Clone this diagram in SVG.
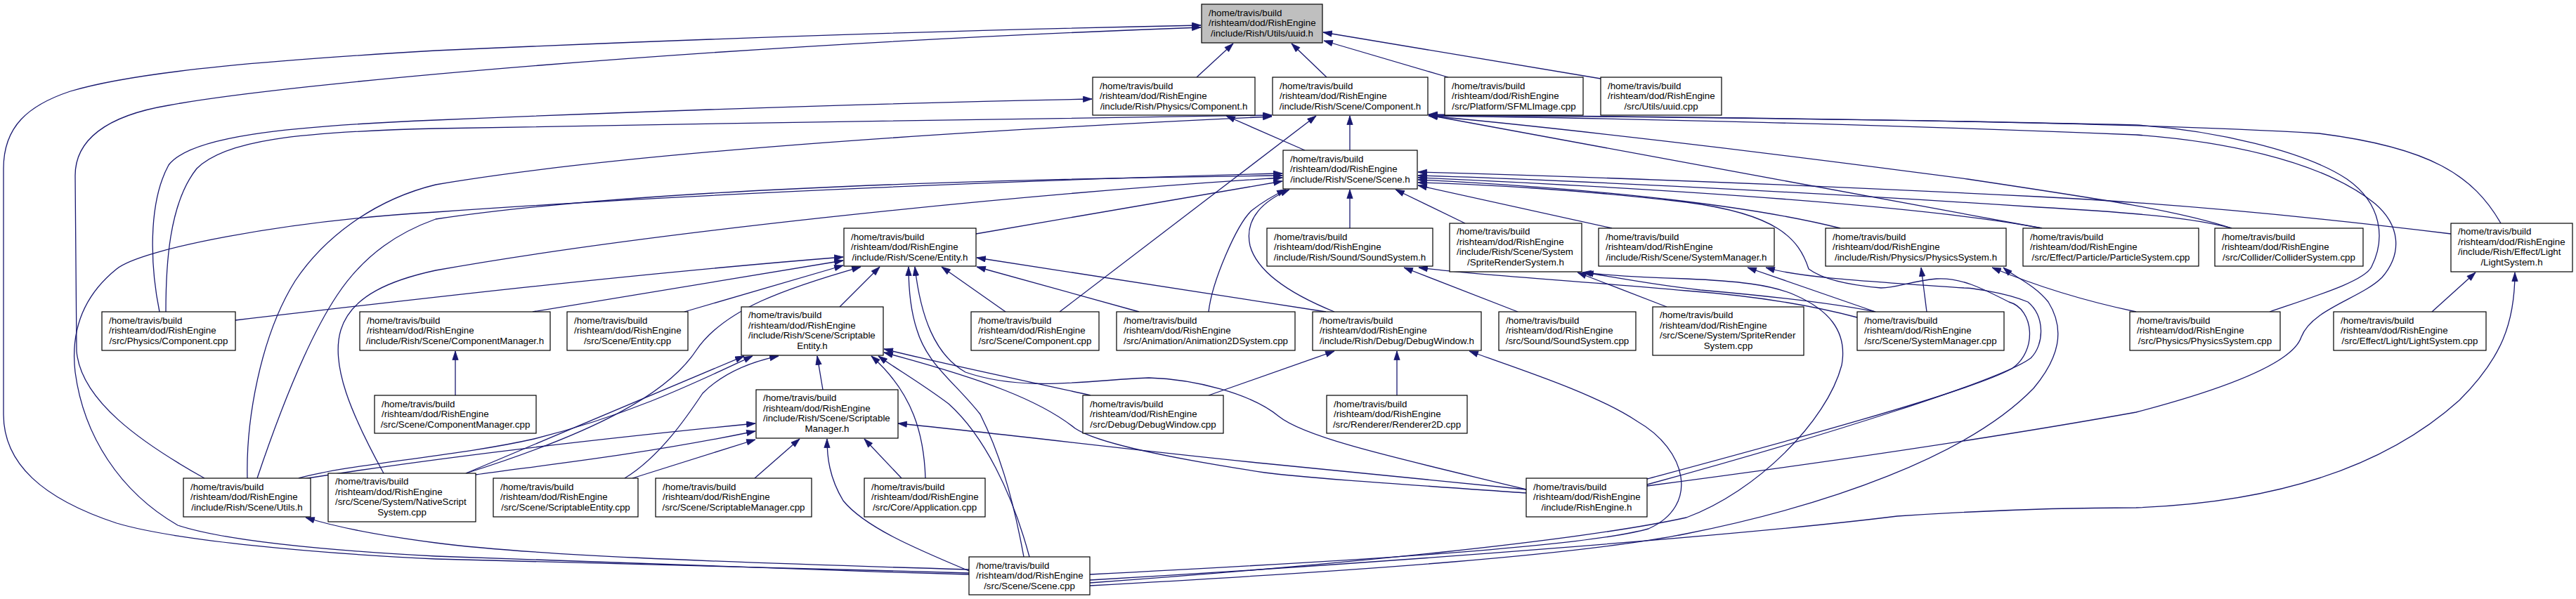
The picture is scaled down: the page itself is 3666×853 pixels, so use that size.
<svg xmlns="http://www.w3.org/2000/svg" width="3666" height="853" viewBox="0 0 3666 853">
<defs>
<marker id="a" markerUnits="userSpaceOnUse" markerWidth="15" markerHeight="11" refX="13" refY="4.65" orient="auto">
<path d="M0.5,0.5 L13,4.65 L0.5,8.8 z" fill="#191970" stroke="#191970" stroke-width="0.8"/>
</marker>
</defs>
<style>
.n rect{fill:#ffffff;stroke:#000000;stroke-width:1.2}
.n rect.g{fill:#bfbfbf}
.n text{font-family:"Liberation Sans",Arial,Helvetica,sans-serif;font-size:13.33px;fill:#000000}
.m{text-anchor:middle}
#edges path{fill:none;stroke:#191970;stroke-width:1.3;marker-end:url(#a)}
</style>
<rect width="3666" height="853" fill="#ffffff"/>
<g id="edges">
<path d="M1703,110 L1755,62"/>
<path d="M1888,110 L1838,62"/>
<path d="M2061,110 L1884,58"/>
<path d="M2278,112 L1883,46"/>
<path d="M1379,816 C1100,808 800,801 620,796 C450,788 250,770 166,745 C60,710 5,660 5,590 L5,240 C5,180 40,150 100,130 C200,100 400,85 620,72 C1000,55 1400,42 1709,36"/>
<path d="M291,681 C200,630 115,570 109,500 L107,250 C107,200 150,165 240,150 C400,120 1000,65 1709,39"/>
<path d="M227,444 C214,380 210,290 240,235 C270,195 400,180 620,171 C1000,155 1300,146 1554,141"/>
<path d="M236,444 C236,380 240,290 280,240 C320,200 420,188 620,183 C1000,175 1500,170 1810,164"/>
<path d="M1857,214 L1745,165"/>
<path d="M352,681 C350,600 370,480 420,400 C460,340 530,285 620,263 C900,215 1400,185 1810,166"/>
<path d="M1921,214 L1921,165"/>
<path d="M1508,444 L1873,165"/>
<path d="M1389,333 L1825,258"/>
<path d="M546,674 C500,590 470,520 485,470 C500,420 560,398 620,385 C900,335 1400,280 1825,253"/>
<path d="M1379,818 C1100,810 800,800 620,792 C450,783 320,770 253,748 C170,700 119,620 107,530 C100,470 120,420 166,383 C200,355 400,315 620,302 C1000,275 1500,255 1825,247"/>
<path d="M366,681 C400,580 440,480 480,420 C520,360 570,330 620,312 C900,270 1400,255 1825,250"/>
<path d="M335,456 C600,425 900,390 1200,366"/>
<path d="M758,444 L1200,371"/>
<path d="M974,444 L1200,378"/>
<path d="M1195,437 L1252,380"/>
<path d="M1431,444 L1340,380"/>
<path d="M1621,444 L1390,380"/>
<path d="M1887,444 L1390,367"/>
<path d="M1457,793 C1440,700 1420,640 1395,590 C1360,545 1320,520 1305,470 C1295,440 1293,410 1293,380"/>
<path d="M2172,697 C2000,655 1860,625 1820,593 C1780,560 1700,540 1635,538 C1560,540 1460,560 1374,530 C1330,505 1310,450 1302,380"/>
<path d="M663,674 C850,615 950,560 990,500 C1030,440 1120,410 1225,380"/>
<path d="M1171,555 L1163,507"/>
<path d="M663,674 L1059,507"/>
<path d="M425,681 C500,660 650,650 760,625 C900,590 1000,540 1071,507"/>
<path d="M889,681 C940,650 980,590 1000,560 C1030,530 1070,515 1108,507"/>
<path d="M1317,681 C1315,620 1300,560 1240,507"/>
<path d="M1465,793 C1440,700 1400,620 1350,575 C1310,545 1275,525 1250,507"/>
<path d="M1552,563 C1450,540 1350,520 1258,497"/>
<path d="M2172,702 C2000,690 1850,680 1800,673 C1650,650 1560,630 1530,610 C1480,570 1400,540 1258,502"/>
<path d="M425,683 C600,655 800,630 1075,603"/>
<path d="M677,676 C750,665 900,650 1075,614"/>
<path d="M900,681 L1075,626"/>
<path d="M1074,681 L1138,625"/>
<path d="M1283,681 L1230,625"/>
<path d="M1379,813 C1300,780 1230,750 1200,713 C1180,680 1177,650 1177,625"/>
<path d="M2172,697 C2000,680 1850,665 1800,660 C1600,640 1450,620 1278,603"/>
<path d="M648,563 L648,500"/>
<path d="M1988,563 L1988,500"/>
<path d="M1720,563 L1899,500"/>
<path d="M1551,818 C1900,800 2250,780 2346,753 C2420,720 2400,640 2330,600 C2270,560 2160,525 2091,500"/>
<path d="M1899,444 C1840,420 1790,390 1779,350 C1770,310 1800,285 1835,270"/>
<path d="M1720,444 C1725,400 1760,320 1781,300 C1800,285 1815,277 1830,270"/>
<path d="M1921,325 L1921,270"/>
<path d="M2085,318 L1986,270"/>
<path d="M2294,325 L2018,264"/>
<path d="M2619,325 C2500,295 2300,270 2018,256"/>
<path d="M2906,325 C2750,295 2400,270 2018,253"/>
<path d="M3176,325 C3120,310 3040,303 2900,295 C2600,275 2200,255 2018,250"/>
<path d="M3488,333 C3300,310 3100,290 2900,280 C2500,260 2200,250 2018,245"/>
<path d="M2344,682 C2500,640 2800,560 2863,525 C2900,500 2895,440 2859,430 C2820,410 2790,395 2756,397 C2720,400 2700,410 2677,410 C2620,405 2590,395 2574,383 C2560,340 2530,305 2400,288 C2250,270 2100,262 2018,260"/>
<path d="M3559,318 C3520,250 3459,210 3300,190 C3000,172 2500,168 2033,163"/>
<path d="M3230,444 C3300,420 3365,400 3375,380 C3395,340 3390,290 3340,255 C3280,215 3150,185 3040,178 C2700,170 2300,166 2033,164"/>
<path d="M2344,692 C2550,665 2800,630 3040,587 C3200,545 3265,510 3275,480 C3290,440 3360,425 3390,395 C3420,360 3415,320 3380,290 C3300,225 3150,200 3040,192 C2700,178 2300,168 2033,165"/>
<path d="M2906,325 L2033,164"/>
<path d="M3176,325 C3100,300 3000,285 2800,255 C2500,215 2200,180 2033,165"/>
<path d="M3461,444 L3523,388"/>
<path d="M1551,826 C2000,800 2500,760 2700,735 C2850,725 2950,723 3040,723 C3250,715 3400,660 3500,570 C3560,510 3579,460 3579,388"/>
<path d="M2160,444 L1998,381"/>
<path d="M2643,452 C2560,430 2480,420 2400,414 C2250,400 2100,392 2019,381"/>
<path d="M2372,437 L2245,388"/>
<path d="M2669,444 C2600,430 2500,420 2420,413 C2350,405 2300,395 2255,388"/>
<path d="M1551,830 C1900,805 2250,770 2400,737 C2500,700 2600,600 2621,520 C2630,470 2600,440 2554,420 C2520,405 2470,400 2400,397 C2330,395 2290,392 2252,388"/>
<path d="M2669,444 L2487,381"/>
<path d="M2344,690 C2600,620 2850,540 2890,510 C2910,490 2910,450 2886,430 C2850,415 2800,410 2795,410 C2650,400 2560,395 2513,381"/>
<path d="M2742,444 L2734,381"/>
<path d="M3040,444 C2950,425 2880,400 2835,381"/>
<path d="M1551,834 C1950,812 2250,790 2400,760 C2600,720 2800,650 2894,553 C2930,510 2940,470 2915,430 C2895,405 2865,393 2851,381"/>
<path d="M1379,811 C1000,800 750,790 620,773 C520,760 470,748 435,737"/>
</g>
<g id="n1" class="n"><rect class="g" x="1710" y="6" width="172" height="55"/><text><tspan x="1720" y="22.5">/home/travis/build</tspan><tspan x="1720" y="37">/rishteam/dod/RishEngine</tspan><tspan class="m" x="1796" y="51.5">/include/Rish/Utils/uuid.h</tspan></text></g>
<g id="n2" class="n"><rect x="1555" y="110" width="231" height="54"/><text><tspan x="1565" y="126.5">/home/travis/build</tspan><tspan x="1565" y="141">/rishteam/dod/RishEngine</tspan><tspan class="m" x="1670.5" y="155.5">/include/Rish/Physics/Component.h</tspan></text></g>
<g id="n3" class="n"><rect x="1811" y="110" width="221" height="54"/><text><tspan x="1821" y="126.5">/home/travis/build</tspan><tspan x="1821" y="141">/rishteam/dod/RishEngine</tspan><tspan class="m" x="1921.5" y="155.5">/include/Rish/Scene/Component.h</tspan></text></g>
<g id="n4" class="n"><rect x="2056" y="110" width="197" height="54"/><text><tspan x="2066" y="126.5">/home/travis/build</tspan><tspan x="2066" y="141">/rishteam/dod/RishEngine</tspan><tspan class="m" x="2154.5" y="155.5">/src/Platform/SFMLImage.cpp</tspan></text></g>
<g id="n5" class="n"><rect x="2278" y="110" width="172" height="54"/><text><tspan x="2288" y="126.5">/home/travis/build</tspan><tspan x="2288" y="141">/rishteam/dod/RishEngine</tspan><tspan class="m" x="2364" y="155.5">/src/Utils/uuid.cpp</tspan></text></g>
<g id="n6" class="n"><rect x="1826" y="214" width="191" height="55"/><text><tspan x="1836" y="230.5">/home/travis/build</tspan><tspan x="1836" y="245">/rishteam/dod/RishEngine</tspan><tspan class="m" x="1921.5" y="259.5">/include/Rish/Scene/Scene.h</tspan></text></g>
<g id="n7" class="n"><rect x="1201" y="325" width="188" height="54"/><text><tspan x="1211" y="341.5">/home/travis/build</tspan><tspan x="1211" y="356">/rishteam/dod/RishEngine</tspan><tspan class="m" x="1295" y="370.5">/include/Rish/Scene/Entity.h</tspan></text></g>
<g id="n8" class="n"><rect x="1803" y="325" width="236" height="54"/><text><tspan x="1813" y="341.5">/home/travis/build</tspan><tspan x="1813" y="356">/rishteam/dod/RishEngine</tspan><tspan class="m" x="1921" y="370.5">/include/Rish/Sound/SoundSystem.h</tspan></text></g>
<g id="n9" class="n"><rect x="2063" y="318" width="188" height="69"/><text><tspan x="2073" y="334">/home/travis/build</tspan><tspan x="2073" y="348.5">/rishteam/dod/RishEngine</tspan><tspan x="2073" y="363">/include/Rish/Scene/System</tspan><tspan class="m" x="2157" y="377.5">/SpriteRenderSystem.h</tspan></text></g>
<g id="n10" class="n"><rect x="2275" y="325" width="250" height="54"/><text><tspan x="2285" y="341.5">/home/travis/build</tspan><tspan x="2285" y="356">/rishteam/dod/RishEngine</tspan><tspan class="m" x="2400" y="370.5">/include/Rish/Scene/SystemManager.h</tspan></text></g>
<g id="n11" class="n"><rect x="2598" y="325" width="257" height="54"/><text><tspan x="2608" y="341.5">/home/travis/build</tspan><tspan x="2608" y="356">/rishteam/dod/RishEngine</tspan><tspan class="m" x="2726.5" y="370.5">/include/Rish/Physics/PhysicsSystem.h</tspan></text></g>
<g id="n12" class="n"><rect x="2879" y="325" width="250" height="54"/><text><tspan x="2889" y="341.5">/home/travis/build</tspan><tspan x="2889" y="356">/rishteam/dod/RishEngine</tspan><tspan class="m" x="3004" y="370.5">/src/Effect/Particle/ParticleSystem.cpp</tspan></text></g>
<g id="n13" class="n"><rect x="3152" y="325" width="211" height="54"/><text><tspan x="3162" y="341.5">/home/travis/build</tspan><tspan x="3162" y="356">/rishteam/dod/RishEngine</tspan><tspan class="m" x="3257.5" y="370.5">/src/Collider/ColliderSystem.cpp</tspan></text></g>
<g id="n14" class="n"><rect x="3488" y="318" width="173" height="69"/><text><tspan x="3498" y="334">/home/travis/build</tspan><tspan x="3498" y="348.5">/rishteam/dod/RishEngine</tspan><tspan x="3498" y="363">/include/Rish/Effect/Light</tspan><tspan class="m" x="3574.5" y="377.5">/LightSystem.h</tspan></text></g>
<g id="n15" class="n"><rect x="145" y="444" width="190" height="55"/><text><tspan x="155" y="460.5">/home/travis/build</tspan><tspan x="155" y="475">/rishteam/dod/RishEngine</tspan><tspan class="m" x="240" y="489.5">/src/Physics/Component.cpp</tspan></text></g>
<g id="n16" class="n"><rect x="512" y="444" width="271" height="55"/><text><tspan x="522" y="460.5">/home/travis/build</tspan><tspan x="522" y="475">/rishteam/dod/RishEngine</tspan><tspan class="m" x="647.5" y="489.5">/include/Rish/Scene/ComponentManager.h</tspan></text></g>
<g id="n17" class="n"><rect x="807" y="444" width="172" height="55"/><text><tspan x="817" y="460.5">/home/travis/build</tspan><tspan x="817" y="475">/rishteam/dod/RishEngine</tspan><tspan class="m" x="893" y="489.5">/src/Scene/Entity.cpp</tspan></text></g>
<g id="n18" class="n"><rect x="1055" y="437" width="202" height="69"/><text><tspan x="1065" y="453">/home/travis/build</tspan><tspan x="1065" y="467.5">/rishteam/dod/RishEngine</tspan><tspan x="1065" y="482">/include/Rish/Scene/Scriptable</tspan><tspan class="m" x="1156" y="496.5">Entity.h</tspan></text></g>
<g id="n19" class="n"><rect x="1382" y="444" width="182" height="55"/><text><tspan x="1392" y="460.5">/home/travis/build</tspan><tspan x="1392" y="475">/rishteam/dod/RishEngine</tspan><tspan class="m" x="1473" y="489.5">/src/Scene/Component.cpp</tspan></text></g>
<g id="n20" class="n"><rect x="1589" y="444" width="254" height="55"/><text><tspan x="1599" y="460.5">/home/travis/build</tspan><tspan x="1599" y="475">/rishteam/dod/RishEngine</tspan><tspan class="m" x="1716" y="489.5">/src/Animation/Animation2DSystem.cpp</tspan></text></g>
<g id="n21" class="n"><rect x="1868" y="444" width="240" height="55"/><text><tspan x="1878" y="460.5">/home/travis/build</tspan><tspan x="1878" y="475">/rishteam/dod/RishEngine</tspan><tspan class="m" x="1988" y="489.5">/include/Rish/Debug/DebugWindow.h</tspan></text></g>
<g id="n22" class="n"><rect x="2133" y="444" width="195" height="55"/><text><tspan x="2143" y="460.5">/home/travis/build</tspan><tspan x="2143" y="475">/rishteam/dod/RishEngine</tspan><tspan class="m" x="2230.5" y="489.5">/src/Sound/SoundSystem.cpp</tspan></text></g>
<g id="n23" class="n"><rect x="2352" y="437" width="215" height="69"/><text><tspan x="2362" y="453">/home/travis/build</tspan><tspan x="2362" y="467.5">/rishteam/dod/RishEngine</tspan><tspan x="2362" y="482">/src/Scene/System/SpriteRender</tspan><tspan class="m" x="2459.5" y="496.5">System.cpp</tspan></text></g>
<g id="n24" class="n"><rect x="2643" y="444" width="209" height="55"/><text><tspan x="2653" y="460.5">/home/travis/build</tspan><tspan x="2653" y="475">/rishteam/dod/RishEngine</tspan><tspan class="m" x="2747.5" y="489.5">/src/Scene/SystemManager.cpp</tspan></text></g>
<g id="n25" class="n"><rect x="3031" y="444" width="214" height="55"/><text><tspan x="3041" y="460.5">/home/travis/build</tspan><tspan x="3041" y="475">/rishteam/dod/RishEngine</tspan><tspan class="m" x="3138" y="489.5">/src/Physics/PhysicsSystem.cpp</tspan></text></g>
<g id="n26" class="n"><rect x="3321" y="444" width="217" height="55"/><text><tspan x="3331" y="460.5">/home/travis/build</tspan><tspan x="3331" y="475">/rishteam/dod/RishEngine</tspan><tspan class="m" x="3429.5" y="489.5">/src/Effect/Light/LightSystem.cpp</tspan></text></g>
<g id="n27" class="n"><rect x="533" y="563" width="230" height="54"/><text><tspan x="543" y="579.5">/home/travis/build</tspan><tspan x="543" y="594">/rishteam/dod/RishEngine</tspan><tspan class="m" x="648" y="608.5">/src/Scene/ComponentManager.cpp</tspan></text></g>
<g id="n28" class="n"><rect x="1076" y="555" width="202" height="69"/><text><tspan x="1086" y="571">/home/travis/build</tspan><tspan x="1086" y="585.5">/rishteam/dod/RishEngine</tspan><tspan x="1086" y="600">/include/Rish/Scene/Scriptable</tspan><tspan class="m" x="1177" y="614.5">Manager.h</tspan></text></g>
<g id="n29" class="n"><rect x="1541" y="563" width="200" height="54"/><text><tspan x="1551" y="579.5">/home/travis/build</tspan><tspan x="1551" y="594">/rishteam/dod/RishEngine</tspan><tspan class="m" x="1641" y="608.5">/src/Debug/DebugWindow.cpp</tspan></text></g>
<g id="n30" class="n"><rect x="1888" y="563" width="200" height="54"/><text><tspan x="1898" y="579.5">/home/travis/build</tspan><tspan x="1898" y="594">/rishteam/dod/RishEngine</tspan><tspan class="m" x="1988" y="608.5">/src/Renderer/Renderer2D.cpp</tspan></text></g>
<g id="n31" class="n"><rect x="261" y="681" width="181" height="55"/><text><tspan x="271" y="697.5">/home/travis/build</tspan><tspan x="271" y="712">/rishteam/dod/RishEngine</tspan><tspan class="m" x="351.5" y="726.5">/include/Rish/Scene/Utils.h</tspan></text></g>
<g id="n32" class="n"><rect x="467" y="674" width="210" height="69"/><text><tspan x="477" y="690">/home/travis/build</tspan><tspan x="477" y="704.5">/rishteam/dod/RishEngine</tspan><tspan x="477" y="719">/src/Scene/System/NativeScript</tspan><tspan class="m" x="572" y="733.5">System.cpp</tspan></text></g>
<g id="n33" class="n"><rect x="702" y="681" width="206" height="55"/><text><tspan x="712" y="697.5">/home/travis/build</tspan><tspan x="712" y="712">/rishteam/dod/RishEngine</tspan><tspan class="m" x="805" y="726.5">/src/Scene/ScriptableEntity.cpp</tspan></text></g>
<g id="n34" class="n"><rect x="933" y="681" width="222" height="55"/><text><tspan x="943" y="697.5">/home/travis/build</tspan><tspan x="943" y="712">/rishteam/dod/RishEngine</tspan><tspan class="m" x="1044" y="726.5">/src/Scene/ScriptableManager.cpp</tspan></text></g>
<g id="n35" class="n"><rect x="1230" y="681" width="172" height="55"/><text><tspan x="1240" y="697.5">/home/travis/build</tspan><tspan x="1240" y="712">/rishteam/dod/RishEngine</tspan><tspan class="m" x="1316" y="726.5">/src/Core/Application.cpp</tspan></text></g>
<g id="n36" class="n"><rect x="2172" y="681" width="172" height="55"/><text><tspan x="2182" y="697.5">/home/travis/build</tspan><tspan x="2182" y="712">/rishteam/dod/RishEngine</tspan><tspan class="m" x="2258" y="726.5">/include/RishEngine.h</tspan></text></g>
<g id="n37" class="n"><rect x="1379" y="793" width="172" height="54"/><text><tspan x="1389" y="809.5">/home/travis/build</tspan><tspan x="1389" y="824">/rishteam/dod/RishEngine</tspan><tspan class="m" x="1465" y="838.5">/src/Scene/Scene.cpp</tspan></text></g>
</svg>
